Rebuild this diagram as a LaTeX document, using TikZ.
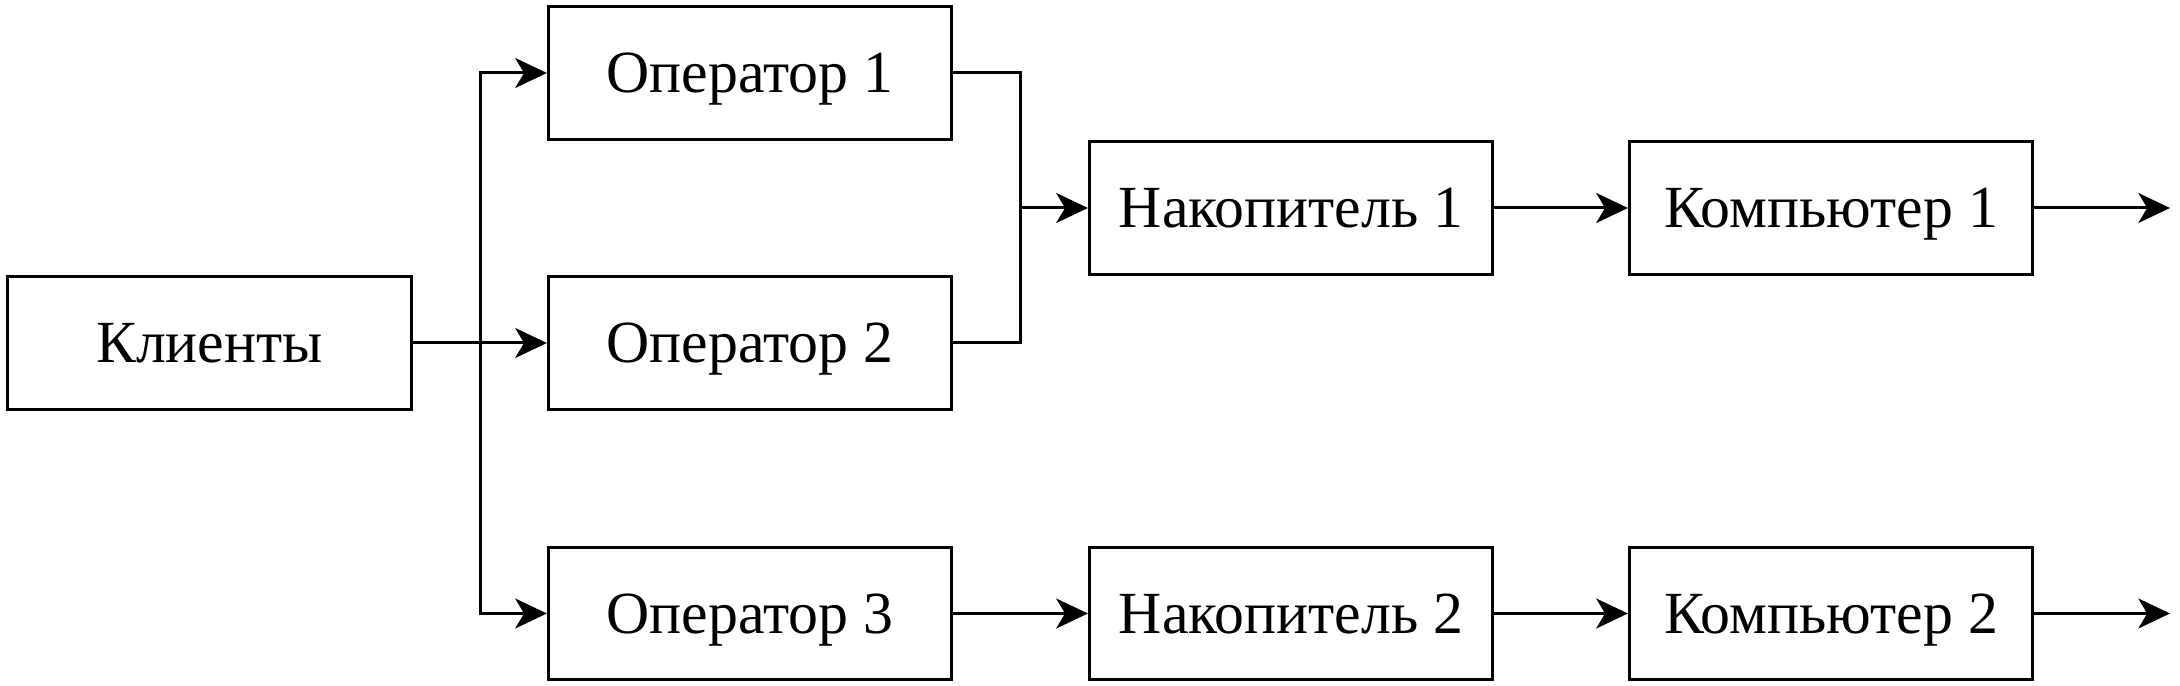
\documentclass[tikz,border=0pt]{standalone}
\usepackage{fontspec}
\setmainfont{Liberation Serif}
\usetikzlibrary{arrows.meta}
\begin{document}
\begin{tikzpicture}[x=0.01cm,y=-0.01cm,
  box/.style={draw=black,line width=0.85pt,minimum width=4.03cm,minimum height=1.32cm,inner sep=0pt,text height=11.3pt,text depth=0pt,font=\fontsize{17}{20}\selectfont},
  conn/.style={line width=0.85pt},
  arr/.style={conn,-{Stealth[length=9pt,width=8.5pt,inset=2.5pt]}}]
\useasboundingbox (0,0) rectangle (2180,686);
\node[box] (k)  at (209.5,343) {Клиенты};
\node[box] (o1) at (750,73) {Оператор 1};
\node[box] (o2) at (750,343) {Оператор 2};
\node[box] (o3) at (750,613.5) {Оператор 3};
\node[box] (n1) at (1291,208) {Накопитель 1};
\node[box] (c1) at (1831,208) {Компьютер 1};
\node[box] (n2) at (1291,613.5) {Накопитель 2};
\node[box] (c2) at (1831,613.5) {Компьютер 2};
\coordinate (s) at (480,343);
\coordinate (m) at (1020,208);
\coordinate (e1) at (2170,208);
\coordinate (e2) at (2170,613.5);
\draw[conn] (k.east) -- (s);
\draw[arr] (s) |- (o1.west);
\draw[arr] (s) -- (o2.west);
\draw[arr] (s) |- (o3.west);
\draw[conn] (o1.east) -| (m);
\draw[conn] (o2.east) -| (m);
\draw[arr] (m) -- (n1.west);
\draw[arr] (n1) -- (c1);
\draw[arr] (c1.east) -- (e1);
\draw[arr] (o3) -- (n2);
\draw[arr] (n2) -- (c2);
\draw[arr] (c2.east) -- (e2);
\end{tikzpicture}
\end{document}
